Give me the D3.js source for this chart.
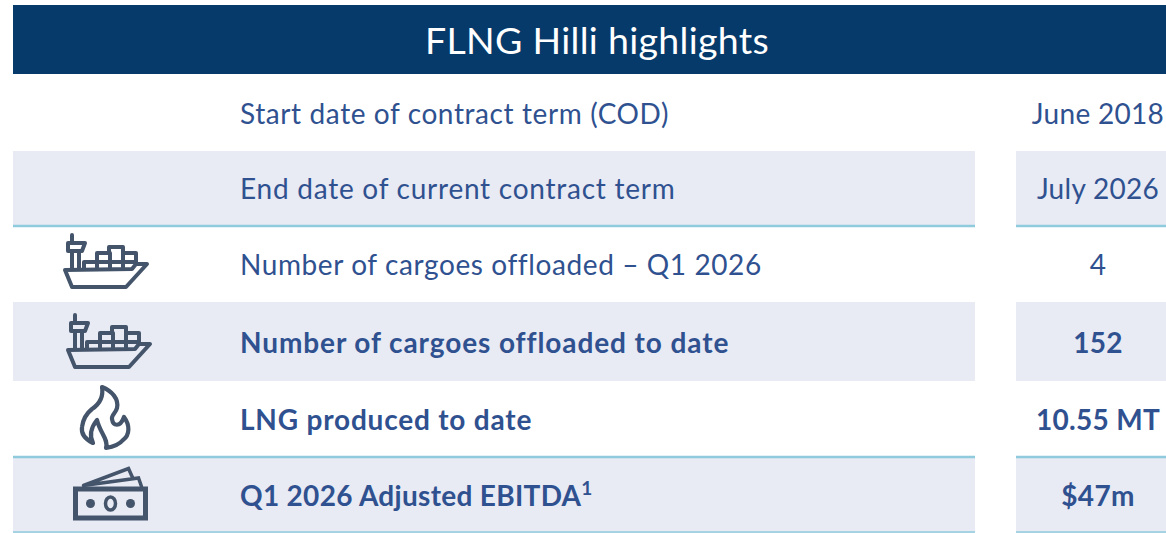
<!DOCTYPE html>
<html><head><meta charset="utf-8">
<script src="https://cdn.jsdelivr.net/npm/d3@7"></script>
<style>html,body{margin:0;padding:0;background:#fff}svg{display:block}text{font-family:Lato,"Open Sans",sans-serif}</style>
</head><body><svg id="c" width="1166" height="533"></svg>
<script>
const title = "FLNG Hilli highlights";
const labels = ["Start date of contract term (COD)","End date of current contract term","Number of cargoes offloaded – Q1 2026","Number of cargoes offloaded to date","LNG produced to date","Q1 2026 Adjusted EBITDA"];
const values = ["June 2018","July 2026","4","152","10.55 MT","$47m"];
const bold = [false,false,false,true,true,true];
const icons = [null,null,"ship","ship","flame","money"];
const footnotes = [null,null,null,null,null,"1"];

const W=1166, edges=[74,151,227,302,381,458,533];
const navy="#063a6b", band="#e8eaf4", rule="#8fcbdd", ink="#2f5190", iconInk="#44546a";
const tracking=[0.6,0.75,0.6,0.9,0.8,0.3];
const svg=d3.select("#c");
const rows=d3.range(labels.length);
const yTop=i=>edges[i], yBot=i=>edges[i+1], yMid=i=>(edges[i]+edges[i+1])/2;
const baseline=i=>yMid(i)+10+(i==0||i==3?1:0);

svg.append("rect").attr("x",13).attr("y",5).attr("width",W-13).attr("height",69).attr("fill",navy);
svg.append("text").attr("x",597).attr("y",54).attr("text-anchor","middle").attr("fill","#fff").attr("font-size",37.5).attr("letter-spacing",0.3).text(title);

const shaded=rows.filter(i=>i%2===1);
[[13,962],[1016,150]].forEach(([x0,w])=>{
  svg.append("g").selectAll("rect").data(shaded).join("rect")
    .attr("x",x0).attr("width",w).attr("y",yTop).attr("height",i=>yBot(i)-yTop(i)).attr("fill",band);
  svg.append("g").selectAll("rect").data([[226,2.5],[457,2.5],[532,1.5]]).join("rect")
    .attr("x",x0).attr("width",w).attr("y",d=>d[0]-d[1]/2).attr("height",d=>d[1]).attr("fill",rule);
});

const lab=svg.append("g").selectAll("text").data(rows).join("text")
  .attr("x",240).attr("y",baseline)
  .attr("fill",ink).attr("font-size",28).attr("font-weight",i=>bold[i]?700:400)
  .attr("letter-spacing",i=>tracking[i])
  .text(i=>labels[i]);
lab.filter(i=>footnotes[i]).append("tspan").attr("dy",-11).attr("font-size",19).text(i=>footnotes[i]);
svg.append("g").selectAll("text").data(rows).join("text")
  .attr("x",1098).attr("y",baseline).attr("text-anchor","middle")
  .attr("fill",ink).attr("font-size",28).attr("font-weight",i=>bold[i]?700:400)
  .attr("letter-spacing",0.3)
  .text(i=>values[i]);

const iconPaths={
 ship:[
  "M0 35 L7 52 L61 52 L82 29 L71 29 L67 34 Z",
  "M7 34 L7 16 M14 34 L14 16 M3 8 L20 8 L17 16 L3 16 Z M7 0 L7 8",
  "M19 34 L19 27 L32 27 L32 18 L44 18 L44 12 L58 12 L58 18 L71 18 L71 28 M32 27 L71 27 M32 27 L32 34 M45 18 L45 34 M58 18 L58 34"
 ],
 flame:[
  "M20 2 C30 6 37 14 35 23 C34 28 29 30 30 34 C31 41 38 43 42 32 C48 40 48 50 41 55 C37 60 30 62 24 63 C27 55 18 48 15 35 C11 40 6 48 11 58 C3 54 -1 48 0 42 C1 34 5 28 10 24 C16 20 22 14 20 2 Z"
 ],
 money:[
  "M-35 -14.5 L-35 14.5 L35 14.5 L35 -14.5 Z",
  "M-27 -18 L18 -35 L22 -26 M-27 -18 L28 -25.5 L31 -17"
 ]
};
const iconWidth={ship:4,flame:4.2,money:5};
const iconPos={ship:i=>i==2?[65,235]:[68,315],flame:()=>[82,385],money:()=>[110.5,503.5]};
const ig=svg.append("g").selectAll("g").data(rows.filter(i=>icons[i])).join("g")
  .attr("transform",i=>`translate(${iconPos[icons[i]](i)})`);
ig.each(function(i){
  const g=d3.select(this);
  iconPaths[icons[i]].forEach((d,k)=>g.append("path").attr("d",d).attr("fill","none").attr("stroke",iconInk)
    .attr("stroke-width",icons[i]=="money"&&k==1?3.5:iconWidth[icons[i]]).attr("stroke-linejoin",icons[i]=="money"?"miter":"round").attr("stroke-linecap","round"));
  if(icons[i]=="money"){
    g.selectAll("circle.d").data([-20,20]).join("circle").attr("cx",d=>d).attr("cy",0).attr("r",4.5).attr("fill",iconInk);
    g.append("ellipse").attr("rx",5).attr("ry",6.5).attr("fill","none").attr("stroke",iconInk).attr("stroke-width",3.5);
  }
});
</script></body></html>
